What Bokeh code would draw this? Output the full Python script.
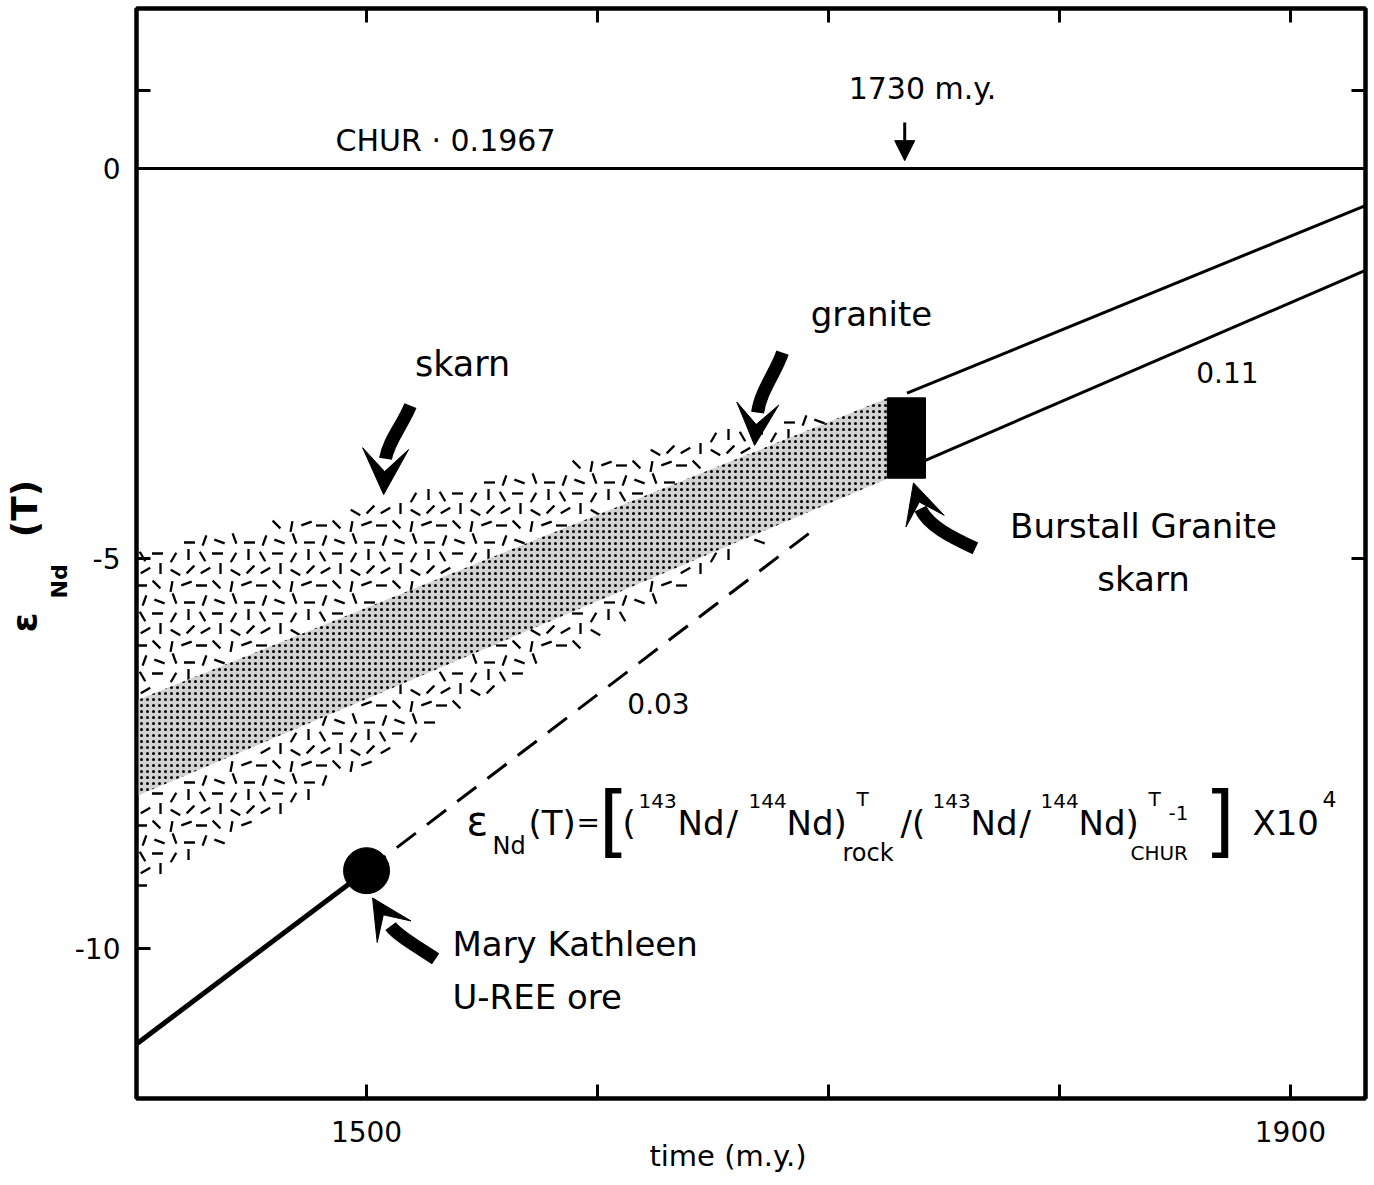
import math
import numpy as np
from bokeh.plotting import figure
from bokeh.models import (Range1d, LinearAxis, FixedTicker, Label, Arrow, VeeHead, NormalHead, Title)
from bokeh.embed import file_html
from bokeh.resources import INLINE

# ---------------- data ----------------
x_ticks = [1500, 1600, 1700, 1800, 1900]
x_tick_labels = {1500: "1500", 1600: "", 1700: "", 1800: "", 1900: "1900"}
y_ticks = [1, 0, -5, -10]
y_tick_labels = {1: "", 0: "0", -5: "-5", -10: "-10"}
right_ticks = [1, -5]

chur_time = [1400, 1933]
chur_eps = [0.0, 0.0]

burstall_upper_time = [1734, 1933]
burstall_upper_eps = [-2.88, -0.47]
burstall_lower_time = [1742, 1933]
burstall_lower_eps = [-3.74, -1.30]

burstall_box_left = [1725.5]
burstall_box_right = [1742.0]
burstall_box_bottom = [-3.97]
burstall_box_top = [-2.94]

mk_time = [1500]
mk_eps = [-9.0]
mk_solid_time = [1400, 1500]
mk_solid_eps = [-11.23, -9.0]
mk_dash_time = [1500, 1695]
mk_dash_eps = [-9.0, -4.6]

# bands: polygon = upper-left, upper-right, lower-right, lower-left
skarn_time = [1400, 1726, 1726, 1400]
skarn_eps = [-4.87, -2.94, -3.97, -9.32]
granite_time = [1400, 1726, 1726, 1400]
granite_eps = [-6.82, -2.94, -3.97, -8.05]

FONT = "DejaVu Sans"
NB = "\u00a0"

X0, X1 = 1400.4, 1932.5
Y0, Y1 = -11.92, 2.05
FW, FH = 1229, 1090
SX = FW / (X1 - X0)      # px per m.y.
SY = FH / (Y1 - Y0)      # px per epsilon unit

p = figure(width=1374, height=1185,
           x_range=Range1d(X0, X1), y_range=Range1d(Y0, Y1),
           output_backend="svg", toolbar_location=None,
           x_axis_location=None, y_axis_location=None,
           min_border_left=136, min_border_right=9, min_border_top=8, min_border_bottom=87)
p.xgrid.visible = False
p.ygrid.visible = False
p.outline_line_color = "black"
p.outline_line_width = 4
p.background_fill_color = "white"
p.border_fill_color = "white"


def style_axis(ax, show):
    ax.axis_line_width = 4
    ax.axis_line_color = "black"
    ax.major_tick_in = 14
    ax.major_tick_out = 0
    ax.major_tick_line_width = 3
    ax.major_tick_line_color = "black"
    ax.minor_tick_in = 0
    ax.minor_tick_out = 0
    ax.major_label_text_font = FONT
    ax.major_label_text_color = "black"
    if show:
        ax.major_label_text_font_size = "28px"
    else:
        ax.major_label_text_font_size = "0px"
        ax.major_label_standoff = 0


xb = LinearAxis(ticker=FixedTicker(ticks=x_ticks), major_label_overrides=x_tick_labels)
style_axis(xb, True)
xb.major_label_standoff = 22
xb.axis_label = "time (m.y.)" + NB * 5
xb.axis_label_text_font = FONT
xb.axis_label_text_font_size = "29px"
xb.axis_label_text_font_style = "normal"
xb.axis_label_text_color = "black"
xb.axis_label_standoff = -6
p.add_layout(xb, "below")

xt = LinearAxis(ticker=FixedTicker(ticks=x_ticks),
                major_label_overrides={t: "" for t in x_ticks})
style_axis(xt, False)
p.add_layout(xt, "above")

yl = LinearAxis(ticker=FixedTicker(ticks=y_ticks), major_label_overrides=y_tick_labels)
style_axis(yl, True)
yl.major_label_standoff = 16
p.add_layout(yl, "left")

yr = LinearAxis(ticker=FixedTicker(ticks=right_ticks),
                major_label_overrides={t: "" for t in right_ticks})
style_axis(yr, False)
p.add_layout(yr, "right")

# y-axis title: subscript column next to the axis, then epsilon / (T) column
p.add_layout(Title(text="Nd", text_font=FONT, text_font_size="22px", text_font_style="bold",
                   align="left", offset=500, standoff=0, text_color="black"), "left")
p.add_layout(Title(text="ε" + NB * 6 + "(T)", text_font=FONT, text_font_size="36px",
                   text_font_style="bold", align="left", offset=466, standoff=0,
                   text_color="black"), "left")

# ---------------- skarn ornament: a repeated tile of short strokes ----------------
tile_strokes = [  # (centre x px, centre y px, angle deg) inside a 60x60 px tile
    (6, 8, 60), (21, 5, 0), (37, 9, 120), (52, 6, 90),
    (9, 22, 150), (24, 20, 90), (39, 24, 30), (54, 21, 135),
    (5, 37, 0), (20, 36, 45), (35, 38, 100), (50, 35, 160),
    (8, 52, 110), (23, 53, 20), (38, 50, 70), (53, 54, 0),
]
TILE = 60
HALF = 5.5


def band_limits(times, eps, x):
    top = np.interp(x, [times[0], times[1]], [eps[0], eps[1]])
    bot = np.interp(x, [times[3], times[2]], [eps[3], eps[2]])
    return bot, top


sx0, sy0, sx1, sy1 = [], [], [], []
for tx in range(0, int((skarn_time[1] - X0) * SX) + TILE, TILE):
    for ty in range(0, FH + TILE, TILE):
        for cx, cy, a in tile_strokes:
            xc = X0 + (tx + cx) / SX
            yc = Y1 - (ty + cy) / SY
            if xc > skarn_time[1] - 1:
                continue
            b, t = band_limits(skarn_time, skarn_eps, xc)
            if not (b + 4 / SY < yc < t - 4 / SY):
                continue
            gb, gt = band_limits(granite_time, granite_eps, xc)
            if gb - 3 / SY < yc < gt + 3 / SY:
                continue
            dx = HALF * math.cos(math.radians(a)) / SX
            dy = HALF * math.sin(math.radians(a)) / SY
            sx0.append(xc - dx); sy0.append(yc + dy)
            sx1.append(xc + dx); sy1.append(yc - dy)
p.segment(x0=sx0, y0=sy0, x1=sx1, y1=sy1, line_width=2.3, line_color="black")

p.patch(granite_time, granite_eps, fill_color="#d2d2d2", line_alpha=0,
        hatch_pattern="dot", hatch_scale=6, hatch_weight=2.6, hatch_color="black")

# ---------------- lines ----------------
p.line(chur_time, chur_eps, line_width=3, color="black")
p.line(burstall_upper_time, burstall_upper_eps, line_width=3, color="black")
p.line(burstall_lower_time, burstall_lower_eps, line_width=3, color="black")
p.quad(left=burstall_box_left, right=burstall_box_right,
       bottom=burstall_box_bottom, top=burstall_box_top, color="black")
p.line(mk_solid_time, mk_solid_eps, line_width=5, color="black")
p.line(mk_dash_time, mk_dash_eps, line_width=3, color="black", line_dash="24 14")
p.scatter(mk_time, mk_eps, size=46, marker="circle", color="black")

# ---------------- curved arrows (annotations) ----------------
# body: (x0, y0, cx0, cy0, cx1, cy1, x1, y1); head: (xs, ys, xe, ye, size)
arrows = [
    ((1519.0, -3.04, 1515.6, -3.29, 1509.5, -3.49, 1508.2, -3.72), (1508.2, -3.62, 1507.4, -4.18, 46)),
    ((1680.1, -2.36, 1677.1, -2.62, 1670.6, -2.85, 1669.3, -3.13), (1669.3, -3.04, 1668.0, -3.55, 42)),
    ((1763.6, -4.87, 1752.8, -4.72, 1743.3, -4.58, 1739.8, -4.36), (1740.7, -4.41, 1736.8, -4.03, 40)),
    ((1529.9, -10.13, 1521.2, -9.96, 1513.4, -9.83, 1510.4, -9.71), (1509.5, -9.67, 1502.6, -9.35, 40)),
]
for body, head in arrows:
    x0, y0, cx0, cy0, cx1, cy1, x1, y1 = body
    p.bezier(x0=[x0], y0=[y0], x1=[x1], y1=[y1], cx0=[cx0], cy0=[cy0], cx1=[cx1], cy1=[cy1],
             line_width=13, line_color="black")
    xs, ys, xe, ye, sz = head
    p.add_layout(Arrow(x_start=xs, y_start=ys, x_end=xe, y_end=ye, line_alpha=0,
                       end=VeeHead(size=sz, fill_color="black", line_color="black")))

p.add_layout(Arrow(x_start=1733, y_start=0.59, x_end=1733, y_end=0.10, line_width=3,
                   end=NormalHead(size=20, fill_color="black", line_color="black")))

# ---------------- text labels ----------------
def lab(x, y, text, size, align="center", bold=False, angle=0.0):
    p.add_layout(Label(x=x, y=y, text=text, text_font=FONT, text_font_size=f"{size}px",
                       text_align=align, text_baseline="middle", text_color="black",
                       text_font_style="bold" if bold else "normal", angle=angle))

lab(1486.6, 0.36, "CHUR · 0.1967", 30, align="left")
lab(1740.7, 1.03, "1730 m.y.", 30)
lab(1541.6, -2.50, "skarn", 35)
lab(1718.6, -1.86, "granite", 34)
lab(1872.7, -2.62, "0.11", 28)
lab(1836.4, -4.58, "Burstall Granite", 34)
lab(1836.4, -5.26, "skarn", 34)
lab(1626.4, -6.86, "0.03", 28)
lab(1537.2, -9.94, "Mary Kathleen", 34, align="left")
lab(1537.2, -10.62, "U-REE ore", 34, align="left")

# formula pieces
def fx(px):
    return 1500 + (px - 366) / 2.31
def fy(py):
    return -(py - 168) / 78.0

formula = [
    ("ε", 466, 820, 40), ("Nd", 492, 845, 24), ("(T)", 528, 822, 34), ("=", 576, 822, 28),
    ("[", 598, 820, 78), ("(", 622, 822, 34), ("143", 638, 800, 20), ("Nd", 677, 822, 34),
    ("/", 726, 822, 34), ("144", 748, 800, 20), ("Nd)", 786, 822, 34), ("T", 856, 798, 20),
    ("rock", 842, 852, 24), ("/(", 900, 822, 34), ("143", 932, 800, 20), ("Nd", 970, 822, 34),
    ("/", 1019, 822, 34), ("144", 1040, 800, 20), ("Nd)", 1078, 822, 34), ("T", 1148, 798, 20),
    ("CHUR", 1130, 852, 20), ("-1", 1168, 812, 20),
    ("]", 1204, 820, 78), ("X10", 1252, 822, 34), ("4", 1322, 798, 22),
]
for t, px, py, s in formula:
    lab(fx(px), fy(py), t, s, align="left")

open("out.html", "w").write(file_html(p, INLINE))
